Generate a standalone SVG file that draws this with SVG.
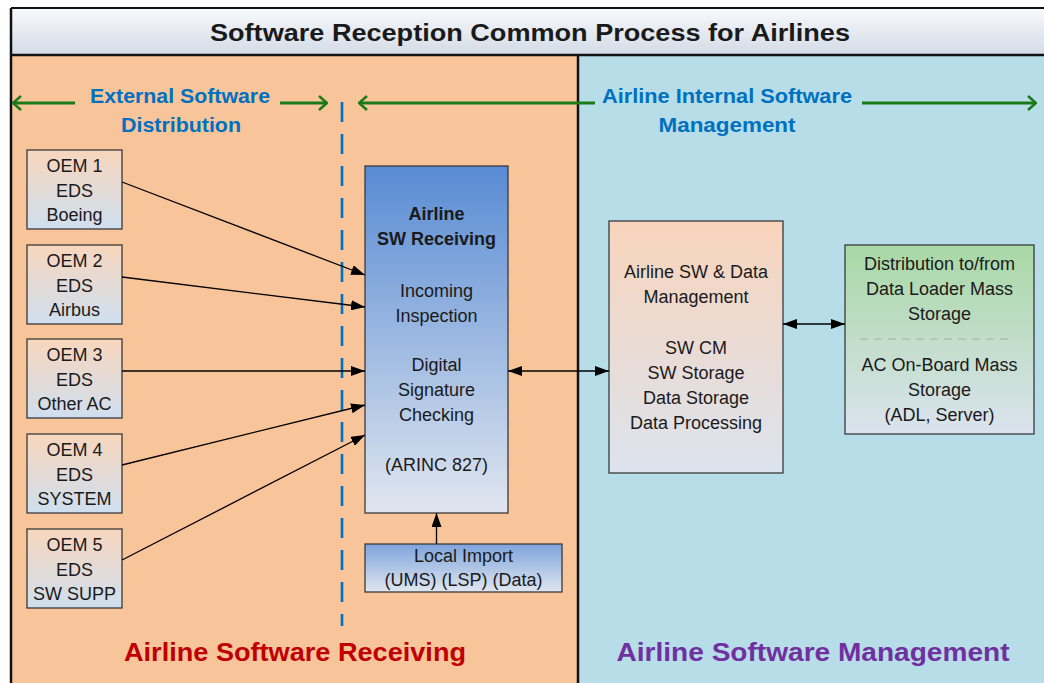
<svg xmlns="http://www.w3.org/2000/svg" width="1044" height="683" viewBox="0 0 1044 683">
<style>
  text { font-family: "Liberation Sans", Arial, sans-serif; fill: #1a1a1a; text-anchor: middle; }
  .t { font-size: 18px; }
  .b { font-weight: bold; }
  .hdr { font-size: 20px; font-weight: bold; fill: #0070c0; }
  .box { stroke: #3a3a3a; stroke-width: 1.3; }
  .conn { stroke: #000; stroke-width: 1.3; fill: none; }
  .green { stroke: #1a7a1a; stroke-width: 3; fill: none; }
</style>
<defs>
  <linearGradient id="gTitle" x1="0" y1="0" x2="0" y2="1">
    <stop offset="0" stop-color="#f8fafc"/><stop offset="1" stop-color="#d3dbe6"/>
  </linearGradient>
  <linearGradient id="gOem" x1="0" y1="0" x2="0" y2="1">
    <stop offset="0" stop-color="#f8d6bd"/><stop offset="1" stop-color="#cfdfef"/>
  </linearGradient>
  <linearGradient id="gMain" x1="0" y1="0" x2="0" y2="1">
    <stop offset="0" stop-color="#588bd4"/><stop offset="1" stop-color="#e0e6ef"/>
  </linearGradient>
  <linearGradient id="gLocal" x1="0" y1="0" x2="0" y2="1">
    <stop offset="0" stop-color="#7da4dc"/><stop offset="1" stop-color="#e0e6ef"/>
  </linearGradient>
  <linearGradient id="gMgmt" x1="0" y1="0" x2="0" y2="1">
    <stop offset="0" stop-color="#f8d4bb"/><stop offset="1" stop-color="#dce3ee"/>
  </linearGradient>
  <linearGradient id="gGreen" x1="0" y1="0" x2="0" y2="1">
    <stop offset="0" stop-color="#a8d8a4"/><stop offset="1" stop-color="#dbe3ef"/>
  </linearGradient>
  <marker id="arr" viewBox="0 0 14 10" refX="14" refY="5" markerWidth="14" markerHeight="10" markerUnits="userSpaceOnUse" orient="auto-start-reverse">
    <path d="M0,0 L14,5 L0,10 Z" fill="#000"/>
  </marker>
  <marker id="garr" viewBox="0 0 10 16" refX="9" refY="8" markerWidth="10" markerHeight="16" markerUnits="userSpaceOnUse" orient="auto-start-reverse">
    <path d="M1,1 L9,8 L1,15" fill="none" stroke="#1a7a1a" stroke-width="2.5"/>
  </marker>
</defs>

<!-- panels -->
<g id="panels">
  <rect x="11" y="55" width="567" height="640" fill="#f8c49a"/>
  <rect x="578" y="55" width="480" height="640" fill="#b7dde8"/>
  <rect x="11" y="8" width="1045" height="47" fill="url(#gTitle)"/>
  <line x1="11" y1="8" x2="1044" y2="8" stroke="#111" stroke-width="2"/>
  <line x1="11" y1="55" x2="1044" y2="55" stroke="#111" stroke-width="2.5"/>
  <line x1="11" y1="8" x2="11" y2="683" stroke="#111" stroke-width="2.5"/>
  <line x1="578" y1="55" x2="578" y2="683" stroke="#111" stroke-width="2.5"/>
  <text x="530" y="41" class="b" font-size="23" textLength="640" lengthAdjust="spacingAndGlyphs">Software Reception Common Process for Airlines</text>
</g>

<!-- section headers -->
<g id="headers">
  <text x="180" y="103" class="hdr" textLength="180" lengthAdjust="spacingAndGlyphs">External Software</text>
  <text x="181" y="132" class="hdr" textLength="120" lengthAdjust="spacingAndGlyphs">Distribution</text>
  <text x="727" y="103" class="hdr" textLength="250" lengthAdjust="spacingAndGlyphs">Airline Internal Software</text>
  <text x="727" y="132" class="hdr" textLength="137" lengthAdjust="spacingAndGlyphs">Management</text>
  <line x1="13" y1="103" x2="75" y2="103" class="green" marker-start="url(#garr)"/>
  <line x1="280" y1="103" x2="327" y2="103" class="green" marker-end="url(#garr)"/>
  <line x1="359" y1="103" x2="595" y2="103" class="green" marker-start="url(#garr)"/>
  <line x1="862" y1="103" x2="1036" y2="103" class="green" marker-end="url(#garr)"/>
  <line x1="342" y1="102" x2="342" y2="626" stroke="#0070c0" stroke-width="2.6" stroke-dasharray="20 12"/>
</g>

<!-- OEM nodes -->
<g id="oem1">
  <rect x="27" y="150" width="95" height="79" fill="url(#gOem)" class="box"/>
  <text x="74.5" y="172" class="t">OEM 1</text><text x="74.5" y="197" class="t">EDS</text><text x="74.5" y="221" class="t">Boeing</text>
</g>
<g id="oem2">
  <rect x="27" y="245" width="95" height="79" fill="url(#gOem)" class="box"/>
  <text x="74.5" y="267" class="t">OEM 2</text><text x="74.5" y="292" class="t">EDS</text><text x="74.5" y="316" class="t">Airbus</text>
</g>
<g id="oem3">
  <rect x="27" y="339" width="95" height="79" fill="url(#gOem)" class="box"/>
  <text x="74.5" y="361" class="t">OEM 3</text><text x="74.5" y="386" class="t">EDS</text><text x="74.5" y="410" class="t">Other AC</text>
</g>
<g id="oem4">
  <rect x="27" y="434" width="95" height="79" fill="url(#gOem)" class="box"/>
  <text x="74.5" y="456" class="t">OEM 4</text><text x="74.5" y="481" class="t">EDS</text><text x="74.5" y="505" class="t">SYSTEM</text>
</g>
<g id="oem5">
  <rect x="27" y="529" width="95" height="79" fill="url(#gOem)" class="box"/>
  <text x="74.5" y="551" class="t">OEM 5</text><text x="74.5" y="576" class="t">EDS</text><text x="74.5" y="600" class="t">SW SUPP</text>
</g>

<!-- main receiving node -->
<g id="receiving">
  <rect x="365" y="166" width="143" height="347" fill="url(#gMain)" class="box"/>
  <text x="436.5" y="220" class="t b">Airline</text>
  <text x="436.5" y="245" class="t b">SW Receiving</text>
  <text x="436.5" y="297" class="t">Incoming</text>
  <text x="436.5" y="322" class="t">Inspection</text>
  <text x="436.5" y="371" class="t">Digital</text>
  <text x="436.5" y="396" class="t">Signature</text>
  <text x="436.5" y="421" class="t">Checking</text>
  <text x="436.5" y="471" class="t">(ARINC 827)</text>
</g>

<g id="localimport">
  <rect x="365" y="544" width="197" height="48" fill="url(#gLocal)" class="box"/>
  <text x="463.5" y="562" class="t">Local Import</text>
  <text x="463.5" y="586" class="t">(UMS) (LSP) (Data)</text>
</g>

<g id="mgmt">
  <rect x="609" y="221" width="174" height="252" fill="url(#gMgmt)" class="box"/>
  <text x="696" y="278" class="t">Airline SW &amp; Data</text>
  <text x="696" y="303" class="t">Management</text>
  <text x="696" y="354" class="t">SW CM</text>
  <text x="696" y="379" class="t">SW Storage</text>
  <text x="696" y="404" class="t">Data Storage</text>
  <text x="696" y="429" class="t">Data Processing</text>
</g>

<g id="storage">
  <rect x="845" y="245" width="189" height="189" fill="url(#gGreen)" class="box"/>
  <text x="939.5" y="270" class="t">Distribution to/from</text>
  <text x="939.5" y="295" class="t">Data Loader Mass</text>
  <text x="939.5" y="320" class="t">Storage</text>
  <line x1="860" y1="339" x2="1014" y2="339" stroke="#9fb2a2" stroke-width="1.2" stroke-dasharray="8 6"/>
  <text x="939.5" y="371" class="t">AC On-Board Mass</text>
  <text x="939.5" y="396" class="t">Storage</text>
  <text x="939.5" y="421" class="t">(ADL, Server)</text>
</g>

<!-- connectors -->
<g id="connectors">
  <line x1="122" y1="182" x2="365" y2="275" class="conn" marker-end="url(#arr)"/>
  <line x1="122" y1="277" x2="365" y2="307" class="conn" marker-end="url(#arr)"/>
  <line x1="122" y1="371" x2="365" y2="371" class="conn" marker-end="url(#arr)"/>
  <line x1="122" y1="465" x2="365" y2="405" class="conn" marker-end="url(#arr)"/>
  <line x1="122" y1="560" x2="365" y2="435" class="conn" marker-end="url(#arr)"/>
  <line x1="436.5" y1="544" x2="436.5" y2="513" class="conn" marker-end="url(#arr)"/>
  <line x1="508" y1="371" x2="609" y2="371" class="conn" marker-start="url(#arr)" marker-end="url(#arr)"/>
  <line x1="783" y1="324" x2="845" y2="324" class="conn" stroke-width="1.8" marker-start="url(#arr)" marker-end="url(#arr)"/>
</g>

<!-- footer labels -->
<g id="footer">
  <text x="295" y="661" class="b" font-size="26" style="fill:#c00000" textLength="342" lengthAdjust="spacingAndGlyphs">Airline Software Receiving</text>
  <text x="813" y="661" class="b" font-size="26" style="fill:#7030a0" textLength="393" lengthAdjust="spacingAndGlyphs">Airline Software Management</text>
</g>
</svg>
